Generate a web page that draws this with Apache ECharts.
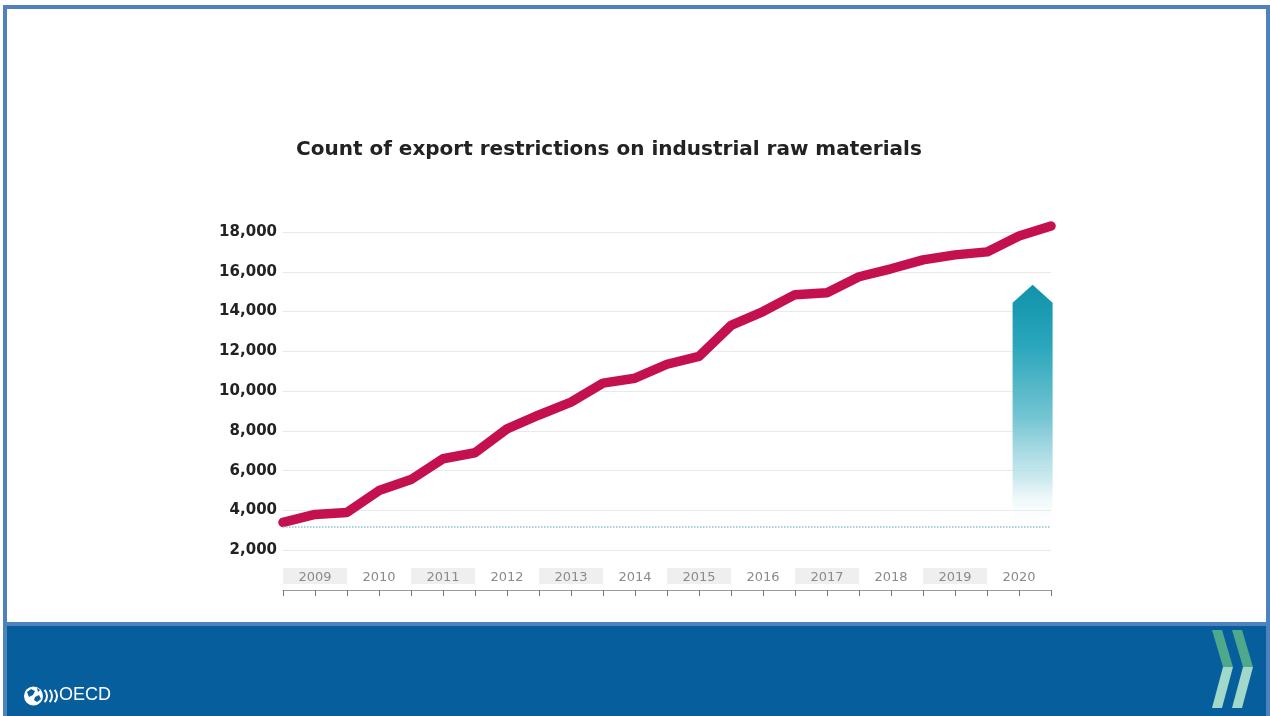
<!DOCTYPE html>
<html>
<head>
<meta charset="utf-8">
<script src="https://cdn.jsdelivr.net/npm/echarts@6/dist/echarts.min.js"></script>
<style>
  html, body { margin:0; padding:0; width:1270px; height:716px; overflow:hidden; background:#ffffff; }
  #frame { position:absolute; left:3px; top:5px; width:1267px; height:711px; background:#4F81BD; }
  #inner { position:absolute; left:7px; top:9px; width:1259px; height:613px; background:#ffffff; }
  #band { position:absolute; left:7px; top:626px; width:1259px; height:90px; background:#065F9C; }
  #chart { position:absolute; left:0; top:0; width:1270px; height:716px; }
</style>
</head>
<body>
<div id="frame"></div>
<div id="inner"></div>
<div id="band"></div>
<div id="chart"></div>
<script>
// ---- data ----
const years = ['2009','2010','2011','2012','2013','2014','2015','2016','2017','2018','2019','2020'];
// half-yearly counts (start of 2009 ... end of 2020)
const restrictionCounts = [3400, 3800, 3900, 5000, 5550, 6600, 6900, 8100, 8800, 9450,
  10400, 10650, 11350, 11750, 13300, 14000, 14850, 14950, 15750, 16150,
  16600, 16850, 17000, 17800, 18300];
const baselineLevel = 3170;              // dotted reference level
const arrowSpan = [22.8, 24.05];         // half-year positions covered by the arrow
const arrowRange = [3170, 15350];        // arrow from baseline up to tip value
const yTicks = [0, 2000, 4000, 6000, 8000, 10000, 12000, 14000, 16000, 18000];

const chart = echarts.init(document.getElementById('chart'), null, {renderer:'canvas'});

const shadedBands = [];
for (let i = 0; i < years.length; i += 2) {
  shadedBands.push([{xAxis: i*2, yAxis: 300}, {xAxis: i*2 + 2, yAxis: 1100}]);
}

const option = {
  backgroundColor: 'transparent',
  animation: false,
  title: {
    text: 'Count of export restrictions on industrial raw materials',
    left: 291, top: 135,
    textStyle: { fontFamily: 'DejaVu Sans', fontWeight: 'bold', fontSize: 20, color: '#222222' }
  },
  grid: { left: 283, right: 219, top: 232, bottom: 126 },
  xAxis: {
    type: 'value', min: 0, max: (years.length) * 2, interval: 1, z: 10,
    splitLine: { show: false },
    axisLine: { show: true, lineStyle: { color: '#9a9a9a', width: 1 } },
    axisTick: { show: true, length: 6, lineStyle: { color: '#777777', width: 1 } },
    axisLabel: {
      inside: true, margin: 6,
      fontFamily: 'DejaVu Sans', fontSize: 13, color: '#8a8a8a',
      formatter: v => (v % 2 === 1) ? years[(v - 1) / 2] : ''
    }
  },
  yAxis: {
    type: 'value', min: yTicks[0], max: yTicks[yTicks.length - 1], interval: 2000,
    axisLine: { show: false }, axisTick: { show: false },
    splitLine: { lineStyle: { color: '#e9e9e9', width: 1 } },
    axisLabel: {
      margin: 6, fontFamily: 'DejaVu Sans', fontWeight: 'bold', fontSize: 15, color: '#222222',
      formatter: v => v === 0 ? '' : v.toLocaleString('en-US')
    }
  },
  series: [
    {
      type: 'custom',
      silent: true,
      z: 1,
      data: [[arrowSpan[0], arrowSpan[1], arrowRange[0], arrowRange[1]]],
      encode: { x: [0, 1], y: [2, 3] },
      renderItem: function (params, api) {
        const bl = api.coord([api.value(0), api.value(2)]);
        const br = api.coord([api.value(1), api.value(2)]);
        const tip = api.coord([(api.value(0) + api.value(1)) / 2, api.value(3)]);
        const sh = tip[1] + 18;
        return {
          type: 'polygon',
          shape: { points: [[bl[0], bl[1]], [bl[0], sh], [tip[0], tip[1]], [br[0], sh], [br[0], br[1]]] },
          style: {
            fill: new echarts.graphic.LinearGradient(0, 0, 0, 1, [
              { offset: 0, color: '#0f93ab' },
              { offset: 0.25, color: '#2aa6bc' },
              { offset: 0.55, color: '#74c5d2' },
              { offset: 0.8, color: 'rgba(190,228,235,0.8)' },
              { offset: 1, color: 'rgba(255,255,255,0)' }
            ])
          }
        };
      }
    },
    {
      type: 'line',
      data: restrictionCounts.map((v, i) => [i, v]),
      symbol: 'none',
      clip: false,
      z: 3,
      lineStyle: { color: '#C5104F', width: 9.5, cap: 'round', join: 'round' },
      markLine: {
        silent: true, symbol: 'none', label: { show: false },
        lineStyle: { type: 'dotted', color: '#8dbfcc', width: 1.5 },
        data: [{ yAxis: baselineLevel }]
      },
      markArea: {
        silent: true,
        itemStyle: { color: '#efefef' },
        data: shadedBands
      }
    }
  ],
  graphic: [
    // OECD logo
    { type: 'circle', shape: { cx: 33.5, cy: 696, r: 9.5 }, style: { fill: '#ffffff' } },
    { type: 'polygon', shape: { points: [[27,692],[31,689],[35,691],[33,695],[29,697]] }, style: { fill: '#065F9C' } },
    { type: 'polygon', shape: { points: [[35,697],[39,695],[41,699],[37,702],[34,700]] }, style: { fill: '#065F9C' } },
    { type: 'polygon', shape: { points: [[37,688],[40,690],[38,692]] }, style: { fill: '#065F9C' } },
    { type: 'arc', shape: { cx: 38, cy: 696, r: 9, startAngle: -0.75, endAngle: 0.75 }, style: { stroke: '#ffffff', lineWidth: 2, fill: null } },
    { type: 'arc', shape: { cx: 43, cy: 696, r: 9, startAngle: -0.75, endAngle: 0.75 }, style: { stroke: '#ffffff', lineWidth: 2, fill: null } },
    { type: 'arc', shape: { cx: 48, cy: 696, r: 9, startAngle: -0.75, endAngle: 0.75 }, style: { stroke: '#ffffff', lineWidth: 2, fill: null } },
    { type: 'text', left: 59, top: 686, style: { text: 'OECD', fill: '#ffffff', font: '18px "Liberation Sans", Arial, sans-serif' } },
    // chevrons
    { type: 'polygon', shape: { points: [[1212,630],[1222,630],[1233,667],[1223,667]] }, style: { fill: '#4DA88C' } },
    { type: 'polygon', shape: { points: [[1223,667],[1233,667],[1222,708],[1212,708]] }, style: { fill: '#A2D8CA' } },
    { type: 'polygon', shape: { points: [[1232,630],[1242,630],[1253,667],[1243,667]] }, style: { fill: '#4DA88C' } },
    { type: 'polygon', shape: { points: [[1243,667],[1253,667],[1242,708],[1232,708]] }, style: { fill: '#A2D8CA' } }
  ]
};
chart.setOption(option);
</script>
</body>
</html>
